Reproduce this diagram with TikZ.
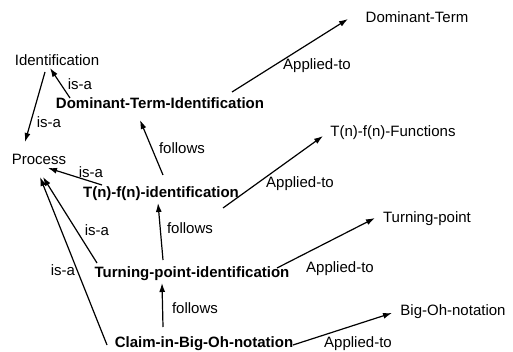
\documentclass[tikz,border=0pt]{standalone}
\usepackage{fontspec}
\setmainfont{Liberation Sans}
\usetikzlibrary{arrows.meta}

\begin{document}
\begin{tikzpicture}[x=1pt,y=-1pt,font=\fontsize{15}{18}\selectfont,>={Latex[length=9pt,width=6pt]},
  concept/.style={inner sep=1pt,text height=11pt,text depth=0pt},
  task/.style={concept,font=\fontsize{15}{18}\selectfont\bfseries},
  rel/.style={inner sep=0pt,text height=11pt,text depth=0pt},
  link/.style={line width=1.2pt,->}]
\useasboundingbox (0,0) rectangle (513,352);
% concepts
\node[concept] (ident) at (57,60) {Identification};
\node[concept] (proc) at (39,159) {Process};
\node[concept] (dt) at (417,17) {Dominant-Term};
\node[concept] (tff) at (393,131) {T(n)-f(n)-Functions};
\node[concept] (tp) at (427,217) {Turning-point};
\node[concept] (bigoh) at (453,310) {Big-Oh-notation};
% tasks
\node[task] (dti) at (160,103) {Dominant-Term-Identification};
\node[task] (tfi) at (161,192) {T(n)-f(n)-identification};
\node[task] (tpi) at (192,272) {Turning-point-identification};
\node[task] (claim) at (204,342) {Claim-in-Big-Oh-notation};
% is-a
\draw[link] ([shift={(-90,-5)}]dti.center) -- ([shift={(-7,8)}]ident.center);
\draw[link] ([shift={(-12,12)}]ident.center) -- ([shift={(-14,-17)}]proc.center);
\draw[link] ([shift={(-59,-7)}]tfi.center) -- ([shift={(9,9)}]proc.center);
\draw[link] ([shift={(-95,-9)}]tpi.center) -- ([shift={(4,18)}]proc.center);
\draw[link] ([shift={(-97,3)}]claim.center) -- ([shift={(1,18)}]proc.center);
\node[rel] (r1) at (80,84) {is-a};
\node[rel] (r2) at (49,122) {is-a};
\node[rel] (r3) at (91,172) {is-a};
\node[rel] (r4) at (97,230) {is-a};
\node[rel] (r5) at (63,270) {is-a};
% follows
\draw[link] ([shift={(2,-17)}]tfi.center) -- ([shift={(-20,17)}]dti.center);
\draw[link] ([shift={(-29,-12)}]tpi.center) -- ([shift={(-3,11)}]tfi.center);
\draw[link] ([shift={(-41,-15)}]claim.center) -- ([shift={(-30,11)}]tpi.center);
\node[rel] (f1) at (182,148) {follows};
\node[rel] (f2) at (190,228) {follows};
\node[rel] (f3) at (195,308) {follows};
% applied-to
\draw[link] ([shift={(72,-11)}]dti.center) -- ([shift={(-69,2)}]dt.center);
\draw[link] ([shift={(62,16)}]tfi.center) -- ([shift={(-70,5)}]tff.center);
\draw[link] ([shift={(85,-4)}]tpi.center) -- ([shift={(-52,1)}]tp.center);
\draw[link] ([shift={(89,3)}]claim.center) -- ([shift={(-61,3)}]bigoh.center);
\node[rel] (a1) at (317,64) {Applied-to};
\node[rel] (a2) at (300,182) {Applied-to};
\node[rel] (a3) at (340,267) {Applied-to};
\node[rel] (a4) at (358,342) {Applied-to};
\end{tikzpicture}
\end{document}
